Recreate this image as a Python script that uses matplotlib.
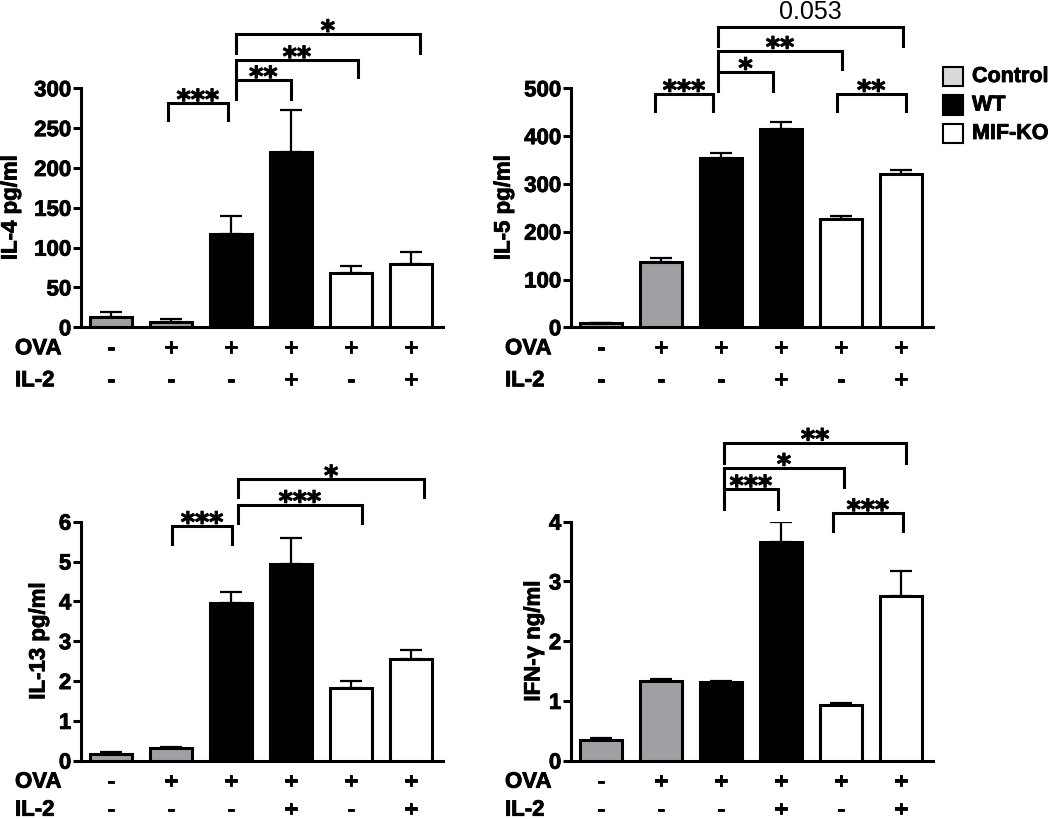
import numpy as np
import matplotlib
matplotlib.use('Agg')
import matplotlib.pyplot as plt
import matplotlib.patheffects as pe
from matplotlib.patches import Rectangle

plt.rcParams['font.family'] = ['Liberation Sans', 'DejaVu Sans']
plt.rcParams['font.weight'] = 'bold'

W, H = 1050, 819

# ---- data ----
groups = ['Control', 'Control', 'WT', 'WT', 'MIF-KO', 'MIF-KO']
ova = ['-', '+', '+', '+', '+', '+']
il2 = ['-', '-', '-', '+', '-', '+']

il4 = [13, 7, 117, 220, 68, 79]
il4_err = [6, 3, 23, 53, 9, 15]
il5 = [8, 137, 355, 414, 227, 321]
il5_err = [2, 8, 10, 15, 6, 9]
il13 = [0.18, 0.33, 3.97, 4.94, 1.83, 2.55]
il13_err = [0.03, 0.01, 0.27, 0.64, 0.18, 0.23]
ifng = [0.34, 1.33, 1.31, 3.66, 0.93, 2.75]
ifng_err = [0.04, 0.03, 0.03, 0.34, 0.03, 0.42]

# significance brackets: (x left, x right, line height, tick bottom, label)
sig_il4 = [(0.95, 1.95, 281, 260, '***'), (2.08, 3.0, 310, 286, '**'),
           (2.08, 4.12, 335, 314, '**'), (2.08, 5.15, 368, 344, '*')]
sig_il5 = [(0.9, 1.87, 488, 453, '***'), (1.95, 2.87, 534, 495, '*'),
           (1.95, 4.02, 578, 540, '**'), (1.95, 5.03, 628, 589, '0.053'),
           (3.93, 5.08, 488, 453, '**')]
sig_il13 = [(1.02, 2.02, 5.89, 5.44, '***'), (2.12, 4.18, 6.42, 5.97, '***'),
            (2.12, 5.22, 7.06, 6.63, '*')]
sig_ifng = [(2.05, 2.95, 4.54, 4.22, '***'), (2.05, 4.05, 4.90, 4.58, '*'),
            (2.05, 5.09, 5.32, 4.98, '**'), (3.87, 5.03, 4.14, 3.84, '***')]

colors = {'Control': '#a0a0a4', 'WT': 'black', 'MIF-KO': 'white'}
legend_colors = {'Control': '#d9d9d9', 'WT': 'black', 'MIF-KO': 'white'}

fig = plt.figure(figsize=(W / 100, H / 100), dpi=100)

FS = 16
heavy = [pe.withStroke(linewidth=0.6, foreground='black')]


def btext(*args, size=FS, **kw):
    t = fig.text(*args, fontsize=size, fontweight='bold', **kw)
    t.set_path_effects(heavy)
    return t


def panel(x0_px, base_px, vals, errs, ymax, step, ylabel, ylab_px, row_px, sig, il2_off):
    # x0_px: pixel of first bar centre, 60 px per bar
    left = x0_px - 0.5 * 60
    right = x0_px + 5.53 * 60
    ax = fig.add_axes([left / W, 1 - base_px / H, (right - left) / W, 239 / H])
    x = np.arange(len(vals))
    ax.bar(x, vals, width=0.7, color=[colors[g] for g in groups],
           edgecolor='black', linewidth=2.2, zorder=3)
    ax.errorbar(x, vals, yerr=[np.zeros(len(vals)), errs], fmt='none',
                ecolor='black', elinewidth=1.6, capsize=8, capthick=1.6, zorder=2)
    ax.set_xlim(-0.5, 5.53)
    ax.set_ylim(0, ymax)
    ax.set_yticks(np.arange(0, ymax + step / 2, step))
    for s in ['top', 'right']:
        ax.spines[s].set_visible(False)
    for s in ['left', 'bottom']:
        ax.spines[s].set_linewidth(2.2)
    ax.tick_params(axis='y', length=6, width=2.2, pad=1, labelsize=FS)
    ax.tick_params(axis='x', bottom=False, labelbottom=False)
    for lab in ax.get_yticklabels():
        lab.set_fontweight('bold')
        lab.set_path_effects(heavy)

    # treatment rows
    tr = ax.get_xaxis_transform()
    for i in range(len(vals)):
        for sign, off in [(ova[i], 27), (il2[i], il2_off)]:
            t = ax.text(i, -off / 239, sign, transform=tr, ha='center',
                        va='baseline', fontsize=FS, fontweight='bold')
            t.set_path_effects(heavy)
    btext(row_px / W, 1 - (base_px + 27) / H, 'OVA', ha='left', va='baseline')
    btext(row_px / W, 1 - (base_px + il2_off) / H, 'IL-2', ha='left', va='baseline')

    btext(ylab_px / W, 1 - (base_px - 119.5) / H, ylabel, rotation=90,
          ha='center', va='center')

    for x1, x2, y, bot, lab in sig:
        ax.plot([x1, x1, x2, x2], [bot, y, y, bot], color='black', lw=2.2,
                clip_on=False, solid_joinstyle='miter', zorder=4)
        if lab.startswith('*'):
            t = ax.annotate(lab, xy=((x1 + x2) / 2, y), xytext=(0, -3.8),
                            textcoords='offset points', ha='center', va='baseline',
                            fontsize=19.5, fontweight='bold', family='DejaVu Sans',
                            annotation_clip=False)
            t.set_path_effects([pe.withStroke(linewidth=0.8, foreground='black')])
        else:
            ax.annotate(lab, xy=((x1 + x2) / 2, y), xytext=(0, 6),
                        textcoords='offset points', ha='center', va='baseline',
                        fontsize=18, fontweight='normal', annotation_clip=False)
    return ax


panel(111, 327.3, il4, il4_err, 300, 50, 'IL-4 pg/ml', 11, 15, sig_il4, 59)
panel(601, 327.3, il5, il5_err, 500, 100, 'IL-5 pg/ml', 504, 505, sig_il5, 59)
panel(111, 760.7, il13, il13_err, 6, 1, 'IL-13 pg/ml', 39, 15, sig_il13, 55)
panel(601, 760.7, ifng, ifng_err, 4, 1, 'IFN-γ ng/ml', 534, 505, sig_ifng, 55)

# legend
for k, name in enumerate(['Control', 'WT', 'MIF-KO']):
    yc = 76.5 + 28.5 * k
    fig.add_artist(Rectangle((943 / W, 1 - (yc + 9.5) / H), 20 / W, 19 / H,
                             transform=fig.transFigure, facecolor=legend_colors[name],
                             edgecolor='black', linewidth=1.5))
    btext(972 / W, 1 - yc / H, name, size=15.5, ha='left', va='center')

fig.savefig('out.png', dpi=100)
